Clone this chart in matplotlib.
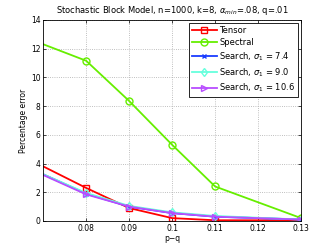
import numpy as np
import matplotlib as mpl
import matplotlib.pyplot as plt

# data
p_minus_q = [0.07, 0.08, 0.09, 0.10, 0.11, 0.13]
tensor = [3.8, 2.3, 0.9, 0.2, 0.05, 0.05]
spectral = [12.3, 11.15, 8.35, 5.3, 2.4, 0.2]
search_74 = [3.25, 1.9, 1.0, 0.55, 0.3, 0.1]
search_90 = [3.25, 1.95, 1.05, 0.6, 0.35, 0.1]
search_106 = [3.2, 1.85, 1.0, 0.55, 0.3, 0.1]
xticks = [0.08, 0.09, 0.1, 0.11, 0.12, 0.13]
xtick_labels = ["0.08", "0.09", "0.1", "0.11", "0.12", "0.13"]

mpl.rcParams.update({
    "font.family": "DejaVu Sans",
    "font.size": 5.5,
    "mathtext.fontset": "dejavusans",
})

fig = plt.figure(figsize=(3.32, 2.49), dpi=100)
ax = fig.add_axes([0.13, 0.1125, 0.777, 0.808])

# first point sits on the left edge, marker not shown there
mk = slice(1, None)
ax.plot(p_minus_q, tensor, color="#ff0000", marker="s", ms=4.5, mfc="none",
        mew=1.0, lw=1.3, markevery=mk, label="Tensor")
ax.plot(p_minus_q, spectral, color="#66ee00", marker="o", ms=5, mfc="none",
        mew=1.0, lw=1.3, markevery=mk, label="Spectral")
ax.plot(p_minus_q, search_74, color="#1a3cff", marker="x", ms=3.5, mew=1.0,
        lw=1.3, markevery=mk, label=r"Search, $\sigma_1$ = 7.4")
ax.plot(p_minus_q, search_90, color="#66ffdd", marker="d", ms=4.5, mfc="none",
        mew=1.0, lw=1.3, markevery=mk, label=r"Search, $\sigma_1$ = 9.0")
ax.plot(p_minus_q, search_106, color="#b84dff", marker=">", ms=5, mfc="none",
        mew=1.0, lw=1.3, markevery=mk, label=r"Search, $\sigma_1$ = 10.6")

ax.set_xlim(0.07, 0.13)
ax.set_ylim(0, 14)
ax.set_xticks(xticks)
ax.set_xticklabels(xtick_labels)
ax.set_yticks(np.arange(0, 15, 2))
ax.tick_params(direction="in", length=2.5, width=0.5, pad=2, top=True, right=True)
ax.grid(True, linestyle=":", linewidth=0.6, color="#aaaaaa")
for s in ax.spines.values():
    s.set_linewidth(0.6)

ax.set_xlabel("p\u2212q", labelpad=1)
ax.set_ylabel("Percentage error", labelpad=2)
ax.set_title(r"Stochastic Block Model, n=1000, k=8, $\alpha_{min}$=.08, q=.01",
             fontsize=6, pad=5)

leg = ax.legend(loc="upper right", fontsize=6, fancybox=False, framealpha=1,
                edgecolor="black", borderpad=0.3, labelspacing=0.4,
                handlelength=3.0, handletextpad=0.3, borderaxespad=0.4)
leg.get_frame().set_linewidth(0.6)

fig.savefig("out.png", dpi=100)
